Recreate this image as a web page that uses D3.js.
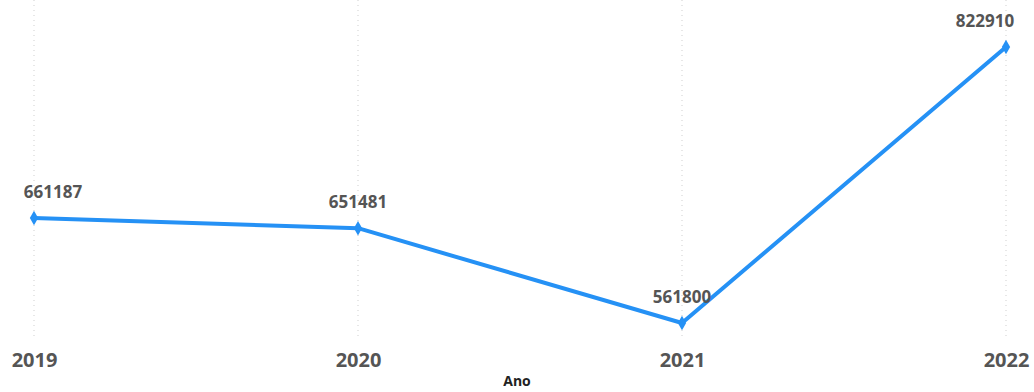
<!DOCTYPE html>
<html><head><meta charset="utf-8">
<script src="https://cdn.jsdelivr.net/npm/d3@7"></script>
<style>html,body{margin:0;padding:0;background:#fff;overflow:hidden}</style>
</head><body>
<svg id="c" width="1034" height="392"></svg>
<script>
const years = ["2019","2020","2021","2022"];
const values = [661187, 651481, 561800, 822910];
const labelDx = [19, 0, 0, -21];

const svg = d3.select("#c");
const x = d3.scalePoint().domain(years).range([34, 1006]);
const y = d3.scaleLinear().domain([561800, 822910]).range([323, 47]);

// vertical dotted gridlines
svg.append("g").selectAll("line").data(years).join("line")
  .attr("x1", d => x(d)).attr("x2", d => x(d))
  .attr("y1", 0).attr("y2", 340)
  .attr("stroke", "#cfcfcf").attr("stroke-width", 1)
  .attr("stroke-dasharray", "1,4");

// x axis
const ax = svg.append("g").attr("transform", "translate(0,341)")
  .call(d3.axisBottom(x).tickSize(0).tickPadding(12));
ax.select(".domain").remove();
ax.selectAll("text").attr("font-family", "'Open Sans', sans-serif")
  .attr("font-size", 20).attr("font-weight", 700).attr("fill", "#555");

svg.append("text").attr("x", 517).attr("y", 386).attr("text-anchor", "middle")
  .attr("font-family", "'Open Sans', sans-serif").attr("font-size", 14)
  .attr("font-weight", 700).attr("fill", "#222").text("Ano");

const data = years.map((d, i) => ({year: d, v: values[i], dx: labelDx[i]}));

svg.append("path").datum(data)
  .attr("fill", "none").attr("stroke", "#2591f5").attr("stroke-width", 4)
  .attr("stroke-linejoin", "round")
  .attr("d", d3.line().x(d => x(d.year)).y(d => y(d.v)));

svg.append("g").selectAll("path").data(data).join("path")
  .attr("transform", d => `translate(${x(d.year)},${y(d.v)})`)
  .attr("d", d3.symbol(d3.symbolDiamond, 60))
  .attr("fill", "#2591f5");

svg.append("g").selectAll("text").data(data).join("text")
  .attr("x", d => x(d.year) + d.dx).attr("y", d => y(d.v) - 20)
  .attr("text-anchor", "middle")
  .attr("font-family", "'Open Sans', sans-serif").attr("font-size", 17)
  .attr("font-weight", 700).attr("fill", "#555")
  .text(d => d.v);
</script>
</body></html>
